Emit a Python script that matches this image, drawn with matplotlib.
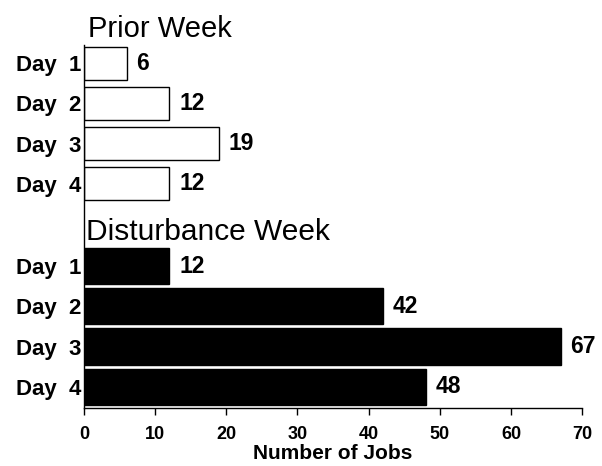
import matplotlib.pyplot as plt

# data
days = ['Day 1', 'Day 2', 'Day 3', 'Day 4']
prior_week = [6, 12, 19, 12]
disturbance_week = [12, 42, 67, 48]
x_ticks = [0, 10, 20, 30, 40, 50, 60, 70]

plt.rcParams['font.family'] = ['Liberation Sans', 'DejaVu Sans']

#==================================================================
def plot_chart():
    fig = plt.figure(figsize=(6.02, 4.66), dpi=100)
    ax = fig.add_axes([0.1395, 0.1245, 0.8275, 0.7785])

    pos_prior = [0, 1, 2, 3]
    pos_dist = [5.05, 6.05, 7.05, 8.05]

    ax.barh(pos_prior, prior_week, height=0.82, color='white',
            edgecolor='black', linewidth=1.0)
    ax.barh(pos_dist, disturbance_week, height=0.9, color='black',
            edgecolor='black', linewidth=1.0)

    #-----------value labels-------------
    for p, v in zip(pos_prior + pos_dist, prior_week + disturbance_week):
        ax.annotate(str(v), (v, p), xytext=(7, 0), textcoords='offset points',
                    va='center', ha='left', fontsize=16.5, fontweight='bold')

    #-----------group headings-----------
    ax.text(0.5, -0.85, 'Prior Week', fontsize=21, va='center', ha='left',
            clip_on=False)
    ax.text(0.3, 4.2, 'Disturbance Week', fontsize=21.5, va='center', ha='left',
            clip_on=False)

    #-----------axes---------------------
    ax.set_xlim(0, 70)
    ax.set_ylim(8.58, -0.45)
    ax.set_xticks(x_ticks)
    ax.set_xticklabels([str(t) for t in x_ticks], fontsize=13, fontweight='bold')
    ax.set_yticks(pos_prior + pos_dist)
    ax.set_yticklabels([d.replace(' ', '  ') for d in days + days],
                       fontsize=16, fontweight='bold')
    ax.tick_params(axis='y', length=0, pad=2)
    ax.tick_params(axis='x', length=5, width=1.0, pad=8)
    ax.set_xlabel('Number of Jobs', fontsize=15, fontweight='bold', labelpad=1)

    ax.spines['top'].set_visible(False)
    ax.spines['right'].set_visible(False)
    ax.spines['left'].set_linewidth(1.0)
    ax.spines['bottom'].set_linewidth(1.0)

    fig.savefig('out.png', dpi=100)

#==================================================================
if __name__ == "__main__":
    plot_chart()
